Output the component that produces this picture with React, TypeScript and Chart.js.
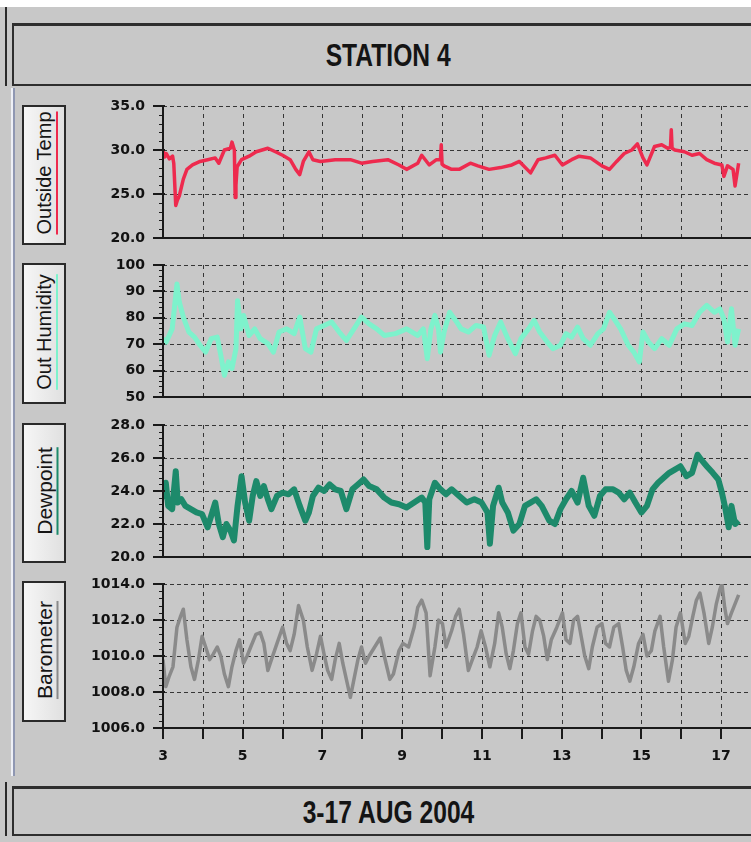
import React, { useEffect, useRef } from "react";
import { Chart, registerables } from "chart.js";

Chart.register(...registerables);

// ---------- DATA ----------
const dayTicks = [3, 4, 5, 6, 7, 8, 9, 10, 11, 12, 13, 14, 15, 16, 17];
const dayLabels = [3, 5, 7, 9, 11, 13, 15, 17];

const tempDays = [
  3.0, 3.04, 3.08, 3.16, 3.24, 3.27, 3.32, 3.36, 3.41, 3.51,
  3.6, 3.74, 3.93, 4.12, 4.31, 4.4, 4.54, 4.69, 4.73, 4.79,
  4.81, 4.83, 4.86, 4.97, 5.16, 5.34, 5.63, 5.82, 6.0, 6.19,
  6.33, 6.43, 6.52, 6.66, 6.76, 6.95, 7.32, 7.7, 7.98, 8.26,
  8.64, 8.92, 9.11, 9.39, 9.49, 9.68, 9.86, 9.96, 9.98, 10.0,
  10.05, 10.24, 10.43, 10.71, 10.9, 11.18, 11.47, 11.75, 11.94, 12.22,
  12.41, 12.6, 12.83, 13.02, 13.25, 13.44, 13.72, 14.01, 14.2, 14.38,
  14.57, 14.76, 14.9, 15.04, 15.14, 15.33, 15.51, 15.66, 15.73, 15.75,
  15.77, 15.84, 16.08, 16.27, 16.46, 16.64, 16.83, 17.02, 17.07, 17.16,
  17.3, 17.35, 17.44,
];
const tempValues = [
  30.0, 29.2, 29.6, 29.0, 29.3, 28.5, 23.7, 24.3, 24.8, 26.7,
  27.8, 28.3, 28.7, 28.9, 29.1, 28.5, 30.0, 30.2, 30.9, 30.0,
  24.6, 26.0, 28.1, 28.9, 29.3, 29.8, 30.2, 29.8, 29.4, 28.9,
  27.8, 27.2, 28.7, 29.8, 28.9, 28.7, 28.9, 28.9, 28.5, 28.7,
  28.9, 28.3, 27.8, 28.5, 29.4, 28.3, 28.9, 28.9, 30.6, 28.4,
  28.2, 27.8, 27.8, 28.5, 28.2, 27.8, 28.0, 28.3, 28.7, 27.4,
  28.9, 29.1, 29.4, 28.3, 28.9, 29.3, 29.1, 28.2, 27.8, 28.7,
  29.6, 30.0, 30.7, 29.1, 28.3, 30.4, 30.6, 30.2, 30.3, 32.3,
  30.2, 30.0, 29.8, 29.4, 29.6, 28.9, 28.5, 28.3, 27.0, 28.2,
  27.8, 25.9, 28.5,
];

const humDays = [
  3.0, 3.08, 3.23, 3.35, 3.41, 3.51, 3.65, 3.79, 3.93, 4.07,
  4.21, 4.36, 4.45, 4.54, 4.64, 4.73, 4.83, 4.87, 4.95, 5.02,
  5.16, 5.3, 5.44, 5.63, 5.77, 5.91, 6.1, 6.29, 6.43, 6.57,
  6.71, 6.85, 7.04, 7.23, 7.42, 7.6, 7.79, 7.98, 8.17, 8.36,
  8.55, 8.83, 9.11, 9.39, 9.53, 9.63, 9.72, 9.82, 9.91, 9.96,
  10.05, 10.19, 10.34, 10.48, 10.66, 10.85, 11.04, 11.18, 11.32, 11.47,
  11.65, 11.84, 11.98, 12.17, 12.31, 12.45, 12.64, 12.78, 12.97, 13.11,
  13.25, 13.4, 13.54, 13.72, 13.91, 14.05, 14.2, 14.34, 14.48, 14.67,
  14.81, 14.95, 15.04, 15.18, 15.33, 15.51, 15.7, 15.89, 16.08, 16.27,
  16.46, 16.64, 16.83, 16.97, 17.07, 17.16, 17.26, 17.35, 17.44,
];
const humValues = [
  72.1, 70.8, 75.8, 92.8, 85.9, 80.3, 74.6, 72.7, 69.6, 67.0,
  72.1, 72.7, 65.8, 58.2, 63.3, 60.8, 68.3, 86.5, 75.8, 80.9,
  73.3, 75.8, 72.1, 70.2, 67.0, 74.6, 75.8, 74.0, 80.3, 68.3,
  67.0, 75.8, 77.1, 78.4, 74.6, 71.4, 75.8, 80.3, 77.7, 75.8,
  73.3, 74.0, 75.8, 73.3, 75.8, 64.5, 75.8, 80.9, 75.8, 67.0,
  74.6, 82.1, 79.0, 75.8, 74.6, 77.1, 76.5, 65.8, 73.3, 78.4,
  72.1, 66.4, 72.1, 75.8, 79.0, 74.6, 70.8, 68.3, 69.6, 74.0,
  72.7, 76.5, 72.1, 69.6, 74.0, 75.8, 82.1, 79.0, 75.8, 69.6,
  67.0, 63.3, 74.6, 70.8, 68.3, 72.1, 69.6, 75.8, 77.7, 77.1,
  82.1, 84.7, 82.1, 83.4, 79.6, 70.8, 83.4, 69.6, 75.8,
];

const dewDays = [
  3.0, 3.07, 3.13, 3.23, 3.32, 3.37, 3.46, 3.56, 3.7, 3.84,
  3.98, 4.12, 4.21, 4.31, 4.4, 4.5, 4.59, 4.69, 4.78, 4.87,
  4.97, 5.06, 5.16, 5.25, 5.34, 5.44, 5.53, 5.63, 5.72, 5.86,
  6.0, 6.15, 6.29, 6.43, 6.57, 6.66, 6.76, 6.9, 7.04, 7.18,
  7.32, 7.46, 7.6, 7.75, 7.89, 8.03, 8.17, 8.36, 8.55, 8.73,
  8.92, 9.11, 9.3, 9.49, 9.58, 9.63, 9.68, 9.82, 9.96, 10.1,
  10.24, 10.43, 10.62, 10.81, 10.99, 11.14, 11.2, 11.28, 11.42, 11.51,
  11.65, 11.79, 11.94, 12.08, 12.22, 12.36, 12.5, 12.69, 12.83, 12.97,
  13.11, 13.25, 13.4, 13.54, 13.68, 13.82, 13.96, 14.1, 14.29, 14.43,
  14.57, 14.71, 14.85, 15.0, 15.14, 15.28, 15.42, 15.56, 15.7, 15.84,
  15.98, 16.13, 16.27, 16.41, 16.5, 16.64, 16.79, 16.93, 17.02, 17.11,
  17.19, 17.26, 17.35, 17.44,
];
const dewValues = [
  23.5, 24.5, 23.1, 22.9, 25.2, 23.3, 23.5, 23.1, 22.9, 22.7,
  22.6, 21.8, 22.5, 23.3, 22.0, 21.2, 22.0, 21.6, 21.0, 23.1,
  24.9, 23.3, 22.2, 23.7, 24.6, 23.7, 24.3, 23.5, 22.9, 23.7,
  23.9, 23.8, 24.1, 23.1, 22.2, 22.7, 23.7, 24.2, 24.0, 24.4,
  24.1, 24.0, 22.9, 24.1, 24.4, 24.7, 24.3, 24.1, 23.6, 23.3,
  23.2, 23.0, 23.3, 23.6, 23.3, 20.6, 23.5, 24.5, 24.1, 23.8,
  24.1, 23.7, 23.3, 23.5, 23.3, 22.7, 20.8, 23.1, 24.2, 23.3,
  22.7, 21.6, 22.0, 23.1, 23.3, 23.5, 23.1, 22.2, 22.0, 22.9,
  23.5, 24.0, 23.3, 24.8, 23.1, 22.5, 23.7, 24.1, 24.1, 23.9,
  23.5, 23.9, 23.3, 22.7, 23.1, 24.1, 24.5, 24.8, 25.1, 25.3,
  25.5, 24.9, 25.1, 26.2, 25.9, 25.5, 25.1, 24.7, 23.9, 22.9,
  21.8, 23.1, 22.0, 22.2,
];

const baroDays = [
  3.0, 3.07, 3.16, 3.25, 3.35, 3.44, 3.51, 3.6, 3.7, 3.79,
  3.89, 3.98, 4.07, 4.17, 4.26, 4.36, 4.45, 4.54, 4.64, 4.73,
  4.83, 4.92, 5.02, 5.11, 5.2, 5.33, 5.44, 5.53, 5.63, 5.72,
  5.86, 6.0, 6.1, 6.19, 6.29, 6.4, 6.52, 6.62, 6.74, 6.85,
  6.95, 7.04, 7.13, 7.23, 7.32, 7.42, 7.51, 7.6, 7.7, 7.79,
  7.89, 7.98, 8.08, 8.17, 8.31, 8.45, 8.55, 8.69, 8.78, 8.92,
  9.02, 9.16, 9.3, 9.39, 9.49, 9.6, 9.7, 9.82, 9.91, 10.01,
  10.1, 10.24, 10.34, 10.43, 10.54, 10.66, 10.76, 10.88, 10.98, 11.09,
  11.2, 11.32, 11.42, 11.51, 11.61, 11.7, 11.79, 11.89, 11.98, 12.08,
  12.17, 12.27, 12.36, 12.45, 12.55, 12.64, 12.74, 12.88, 13.02, 13.11,
  13.21, 13.3, 13.4, 13.49, 13.58, 13.68, 13.77, 13.89, 14.01, 14.1,
  14.2, 14.31, 14.43, 14.53, 14.62, 14.71, 14.81, 14.93, 15.04, 15.14,
  15.25, 15.34, 15.47, 15.56, 15.68, 15.78, 15.87, 15.98, 16.1, 16.19,
  16.29, 16.38, 16.47, 16.57, 16.69, 16.78, 16.88, 16.97, 17.02, 17.09,
  17.16, 17.26, 17.35, 17.44,
];
const baroValues = [
  1009.8, 1008.3, 1008.9, 1009.4, 1011.6, 1012.2, 1012.6, 1010.9, 1009.4, 1008.7,
  1009.8, 1011.1, 1010.5, 1009.8, 1010.1, 1010.5, 1010.0, 1009.0, 1008.3, 1009.4,
  1010.3, 1010.9, 1009.6, 1010.0, 1010.5, 1011.2, 1011.3, 1010.7, 1009.2, 1009.8,
  1010.7, 1011.6, 1010.7, 1010.3, 1011.2, 1012.8, 1012.0, 1010.5, 1009.2, 1010.1,
  1011.1, 1010.1, 1009.2, 1008.7, 1009.8, 1010.7, 1009.6, 1008.7, 1007.7, 1008.7,
  1009.8, 1010.5, 1009.6, 1010.0, 1010.5, 1011.0, 1010.0, 1008.7, 1009.0, 1010.3,
  1010.7, 1010.5, 1011.6, 1012.7, 1013.1, 1012.4, 1008.9, 1010.5, 1012.0, 1011.8,
  1010.5, 1011.4, 1012.2, 1012.6, 1011.2, 1009.2, 1009.8, 1010.5, 1011.4, 1010.5,
  1009.4, 1010.7, 1012.4, 1011.6, 1010.1, 1009.3, 1010.3, 1011.8, 1012.4, 1010.5,
  1010.1, 1011.4, 1012.2, 1012.0, 1011.1, 1009.8, 1010.9, 1011.6, 1012.4, 1010.9,
  1010.7, 1012.0, 1012.2, 1011.1, 1010.0, 1009.3, 1010.5, 1011.6, 1011.8, 1010.7,
  1010.5, 1011.6, 1011.8, 1010.5, 1009.2, 1008.6, 1009.4, 1010.7, 1011.2, 1010.0,
  1010.3, 1011.4, 1012.2, 1010.5, 1008.6, 1009.8, 1011.6, 1012.4, 1010.7, 1011.1,
  1012.2, 1013.1, 1013.5, 1012.4, 1010.7, 1011.6, 1012.9, 1013.7, 1014.0, 1012.7,
  1011.8, 1012.4, 1012.9, 1013.4,
];

// ---------- LAYOUT / STYLE ----------
const BG = "#c8c8c8";
const CANVAS_LEFT = 70;
const CANVAS_WIDTH = 751 - CANVAS_LEFT;
const AXIS_OFFSET = 163 - CANVAS_LEFT;
const TOP_PAD = 10;
const X_AXIS_H = 40;

type Spec = {
  label: string;
  color: string;
  lineWidth: number;
  days: number[];
  values: number[];
  min: number;
  max: number;
  major: number;
  minor: number;
  decimals: number;
  plotTop: number;
  plotBottom: number;
  boxTop: number;
  boxBottom: number;
  fontSize: number;
  last?: boolean;
};

const specs: Spec[] = [
  { label: "Outside Temp", color: "#ee2a4e", lineWidth: 3.5, days: tempDays, values: tempValues, min: 20, max: 35, major: 5, minor: 1, decimals: 1, plotTop: 106, plotBottom: 238, boxTop: 105, boxBottom: 245, fontSize: 20 },
  { label: "Out Humidity", color: "#7ef2cc", lineWidth: 5, days: humDays, values: humValues, min: 50, max: 100, major: 10, minor: 2, decimals: 0, plotTop: 265, plotBottom: 397, boxTop: 263, boxBottom: 404, fontSize: 20 },
  { label: "Dewpoint", color: "#1d8a6b", lineWidth: 6, days: dewDays, values: dewValues, min: 20, max: 28, major: 2, minor: 0.4, decimals: 1, plotTop: 425, plotBottom: 557, boxTop: 423, boxBottom: 563, fontSize: 21 },
  { label: "Barometer", color: "#8a8a8a", lineWidth: 3.5, days: baroDays, values: baroValues, min: 1006, max: 1014, major: 2, minor: 0.4, decimals: 1, plotTop: 584, plotBottom: 728, boxTop: 581, boxBottom: 722, fontSize: 21, last: true },
];

const framePlugin = {
  id: "frame",
  beforeDatasetsDraw(chart: any, _args: any, opts: any) {
    const { ctx, chartArea: a, scales } = chart;
    const x = scales.x;
    const y = scales.y;
    ctx.save();
    ctx.strokeStyle = "#363636";
    ctx.lineWidth = 1;
    ctx.setLineDash([4, 3]);
    for (let v = opts.min + opts.major; v <= opts.max + 1e-6; v += opts.major) {
      const py = Math.round(y.getPixelForValue(v)) + 0.5;
      ctx.beginPath();
      ctx.moveTo(a.left, py);
      ctx.lineTo(a.right, py);
      ctx.stroke();
    }
    ctx.setLineDash([4, 4]);
    for (const d of dayTicks) {
      if (d === dayTicks[0]) continue;
      const px = Math.round(x.getPixelForValue(d)) + 0.5;
      ctx.beginPath();
      ctx.moveTo(px, a.top);
      ctx.lineTo(px, a.bottom);
      ctx.stroke();
    }
    ctx.restore();
  },
  afterDatasetsDraw(chart: any, _args: any, opts: any) {
    const { ctx, chartArea: a, scales } = chart;
    const x = scales.x;
    const y = scales.y;
    ctx.save();
    ctx.setLineDash([]);
    ctx.strokeStyle = "#1a1a1a";
    ctx.lineWidth = 1;
    const n = Math.round((opts.max - opts.min) / opts.minor);
    for (let i = 0; i <= n; i++) {
      const v = opts.min + i * opts.minor;
      const py = Math.round(y.getPixelForValue(v)) + 0.5;
      ctx.beginPath();
      ctx.moveTo(a.left - 4, py);
      ctx.lineTo(a.left + 1, py);
      ctx.stroke();
    }
    ctx.lineWidth = 2;
    for (let v = opts.min; v <= opts.max + 1e-6; v += opts.major) {
      const py = Math.round(y.getPixelForValue(v));
      ctx.beginPath();
      ctx.moveTo(a.left - 10, py);
      ctx.lineTo(a.left + 2, py);
      ctx.stroke();
    }
    ctx.beginPath();
    ctx.moveTo(a.left, a.top - 1);
    ctx.lineTo(a.left, a.bottom + 1);
    ctx.stroke();
    ctx.beginPath();
    ctx.moveTo(a.left - 1, a.bottom);
    ctx.lineTo(a.right, a.bottom);
    ctx.stroke();
    if (opts.last) {
      for (const d of dayTicks) {
        const px = Math.round(x.getPixelForValue(d));
        ctx.beginPath();
        ctx.moveTo(px, a.bottom);
        ctx.lineTo(px, a.bottom + 11);
        ctx.stroke();
      }
    }
    ctx.restore();
  },
};

const tickFont = { family: '"DejaVu Sans", Verdana, sans-serif', weight: "bold" as const, size: 14 };

function Panel({ spec }: { spec: Spec }) {
  const ref = useRef<HTMLCanvasElement>(null);
  const h = TOP_PAD + (spec.plotBottom - spec.plotTop) + (spec.last ? X_AXIS_H : 10);
  useEffect(() => {
    const chart = new Chart(ref.current as HTMLCanvasElement, {
      type: "line",
      data: {
        datasets: [
          {
            data: spec.days.map((d, i) => ({ x: d, y: spec.values[i] })),
            borderColor: spec.color,
            borderWidth: spec.lineWidth,
            pointRadius: 0,
            tension: 0,
            fill: false,
            borderJoinStyle: "round",
          },
        ],
      },
      options: {
        responsive: false,
        animation: false,
        devicePixelRatio: 1,
        layout: { padding: { top: TOP_PAD, bottom: spec.last ? 0 : 10, left: 0, right: 0 } },
        plugins: {
          legend: { display: false },
          tooltip: { enabled: false },
          frame: { min: spec.min, max: spec.max, major: spec.major, minor: spec.minor, last: !!spec.last },
        } as any,
        scales: {
          x: {
            type: "linear",
            min: 3,
            max: 17.75,
            display: !!spec.last,
            grid: { display: false, drawTicks: true, tickLength: 20 },
            border: { display: false },
            ticks: {
              stepSize: 1,
              autoSkip: false,
              maxRotation: 0,
              includeBounds: false,
              padding: 0,
              color: "#111",
              font: tickFont,
              callback: (v: any) => (dayLabels.includes(Number(v)) ? String(v) : ""),
            },
            afterFit: (s: any) => {
              if (spec.last) s.height = X_AXIS_H;
            },
          },
          y: {
            type: "linear",
            min: spec.min,
            max: spec.max,
            grid: { display: false, drawTicks: true, tickLength: 18 },
            border: { display: false },
            ticks: {
              stepSize: spec.major,
              autoSkip: false,
              padding: 0,
              color: "#111",
              font: tickFont,
              callback: (v: any) => Number(v).toFixed(spec.decimals),
            },
            afterFit: (s: any) => {
              s.width = AXIS_OFFSET;
            },
          },
        },
      },
      plugins: [framePlugin as any],
    });
    return () => chart.destroy();
  }, []);
  return (
    <canvas
      ref={ref}
      width={CANVAS_WIDTH}
      height={h}
      style={{ position: "absolute", left: CANVAS_LEFT, top: spec.plotTop - TOP_PAD, width: CANVAS_WIDTH, height: h }}
    />
  );
}

function SideLabel({ spec }: { spec: Spec }) {
  return (
    <div
      style={{
        position: "absolute",
        left: 22,
        top: spec.boxTop,
        width: 44,
        height: spec.boxBottom - spec.boxTop,
        border: "2px solid #2a2a2a",
        boxSizing: "border-box",
        background: "linear-gradient(to right, #f6f6f6, #e0e0e0)",
      }}
    >
      <div
        style={{
          position: "absolute",
          left: "50%",
          top: "50%",
          transform: "translate(-50%, -50%) rotate(-90deg)",
          whiteSpace: "nowrap",
          fontFamily: '"Liberation Sans", Arial, sans-serif',
          fontSize: spec.fontSize,
          lineHeight: 1,
          color: "#151515",
          textDecorationLine: "underline",
          textDecorationColor: spec.color,
          textDecorationThickness: "2px",
          textUnderlineOffset: "5px",
          textDecorationSkipInk: "none",
          marginTop: -2,
        }}
      >
        {spec.label}
      </div>
    </div>
  );
}

const bannerFont = '"Liberation Sans", Arial, sans-serif';

function Banner({ top, height, text }: { top: number; height: number; text: string }) {
  return (
    <div
      style={{
        position: "absolute",
        left: 12,
        top,
        width: 753,
        height,
        border: "2px solid #2e2e2e",
        borderTopWidth: 3,
        boxSizing: "border-box",
        display: "flex",
        alignItems: "center",
        justifyContent: "center",
      }}
    >
      <span
        style={{
          display: "inline-block",
          fontFamily: bannerFont,
          fontWeight: "bold",
          fontSize: 32,
          lineHeight: 1,
          color: "#141414",
          transform: "scaleX(0.77)",
          whiteSpace: "nowrap",
        }}
      >
        {text}
      </span>
    </div>
  );
}

export default function App() {
  return (
    <div style={{ position: "absolute", left: 0, top: 0, width: 751, height: 842, overflow: "hidden", background: BG }}>
      <div style={{ position: "absolute", left: 0, top: 0, width: 751, height: 7, background: "#ffffff" }} />
      <div style={{ position: "absolute", left: 5, top: 7, width: 2, height: 79, background: "#2a2a2a" }} />
      <div style={{ position: "absolute", left: 5, top: 782, width: 2, height: 54, background: "#2a2a2a" }} />
      <div style={{ position: "absolute", left: 11, top: 88, width: 2, height: 688, background: "#eef0f6" }} />
      <div style={{ position: "absolute", left: 13, top: 88, width: 2, height: 688, background: "#8f97b2" }} />
      <Banner top={23} height={63} text="STATION 4" />
      {specs.map((s) => (
        <SideLabel key={"l" + s.label} spec={s} />
      ))}
      {specs.map((s) => (
        <Panel key={"p" + s.label} spec={s} />
      ))}
      <Banner top={786} height={50} text="3-17 AUG 2004" />
    </div>
  );
}
